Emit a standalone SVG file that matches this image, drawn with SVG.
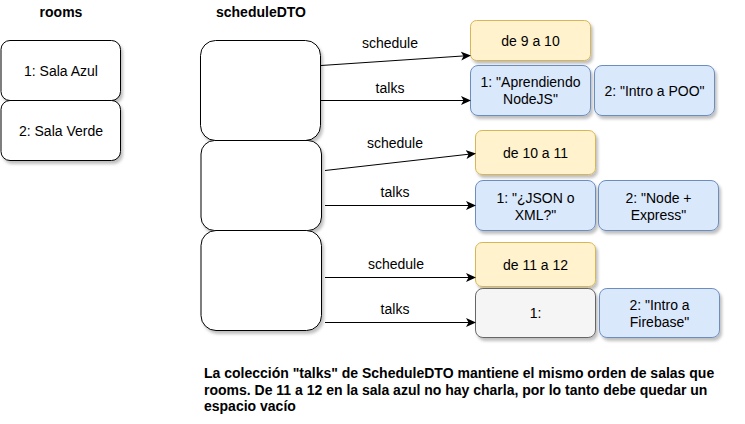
<svg xmlns="http://www.w3.org/2000/svg" width="745" height="424" viewBox="0 0 745 424">
<defs>
<filter id="sh" x="-10%" y="-10%" width="130%" height="130%">
<feDropShadow dx="2" dy="3" stdDeviation="1.5" flood-color="#000" flood-opacity="0.25"/>
</filter>
<marker id="arr" viewBox="0 0 10 10" refX="9" refY="5" markerWidth="10" markerHeight="10" markerUnits="userSpaceOnUse" orient="auto">
<path d="M0,0.5 L10,5 L0,9.5 L2.5,5 Z" fill="#000"/>
</marker>
</defs>
<style>
text{font-family:"Liberation Sans",Arial,sans-serif;font-size:14px;fill:#000}
.t{text-anchor:middle}
.b{font-weight:bold}
.w{fill:#fff;stroke:#000;stroke-width:1}
.y{fill:#fff2cc;stroke:#d6b656;stroke-width:1}
.bl{fill:#dae8fc;stroke:#6c8ebf;stroke-width:1}
.g{fill:#f5f5f5;stroke:#666;stroke-width:1}
.e{fill:none;stroke:#000;stroke-width:1;marker-end:url(#arr)}
</style>
<rect width="745" height="424" fill="#fff"/>
<g id="title-rooms"><text class="t b" x="61" y="17">rooms</text></g>
<g id="title-scheduleDTO"><text class="t b" x="261" y="17">scheduleDTO</text></g>
<g id="room1"><rect class="w" filter="url(#sh)" x="1" y="40.5" width="119.5" height="60" rx="9"/><text class="t" x="61" y="76">1: Sala Azul</text></g>
<g id="room2"><rect class="w" filter="url(#sh)" x="1" y="100.5" width="119.5" height="60" rx="9"/><text class="t" x="61" y="136">2: Sala Verde</text></g>
<g id="dto1"><rect class="w" filter="url(#sh)" x="200.5" y="40.5" width="120" height="100" rx="15"/></g>
<g id="dto2"><rect class="w" filter="url(#sh)" x="201" y="140.5" width="120.5" height="90" rx="13.5"/></g>
<g id="dto3"><rect class="w" filter="url(#sh)" x="201" y="230.5" width="120.5" height="100" rx="15"/></g>
<g id="sched1"><rect class="y" filter="url(#sh)" x="470.5" y="20.5" width="120" height="40" rx="6"/><text class="t" x="530.5" y="45.5">de 9 a 10</text></g>
<g id="talk1-1"><rect class="bl" filter="url(#sh)" x="470.5" y="65.5" width="120" height="50" rx="7.5"/><text class="t" x="530.5" y="87">1: "Aprendiendo</text><text class="t" x="530.5" y="104">NodeJS"</text></g>
<g id="talk1-2"><rect class="bl" filter="url(#sh)" x="594.5" y="65.5" width="120" height="50" rx="7.5"/><text class="t" x="654.5" y="95.5">2: "Intro a POO"</text></g>
<g id="sched2"><rect class="y" filter="url(#sh)" x="475.5" y="130.5" width="120" height="44" rx="6.6"/><text class="t" x="535.5" y="158">de 10 a 11</text></g>
<g id="talk2-1"><rect class="bl" filter="url(#sh)" x="475.5" y="180.5" width="120" height="50" rx="7.5"/><text class="t" x="535.5" y="203">1: "¿JSON o</text><text class="t" x="535.5" y="220">XML?"</text></g>
<g id="talk2-2"><rect class="bl" filter="url(#sh)" x="598.5" y="180.5" width="120" height="50" rx="7.5"/><text class="t" x="658.5" y="203">2: "Node +</text><text class="t" x="658.5" y="220">Express"</text></g>
<g id="sched3"><rect class="y" filter="url(#sh)" x="475.5" y="242.5" width="120" height="44" rx="6.6"/><text class="t" x="535.5" y="270">de 11 a 12</text></g>
<g id="talk3-1"><rect class="g" filter="url(#sh)" x="475.5" y="288.5" width="120" height="49" rx="7.4"/><text class="t" x="535.5" y="318">1:</text></g>
<g id="talk3-2"><rect class="bl" filter="url(#sh)" x="599.5" y="288.5" width="120" height="49" rx="7.4"/><text class="t" x="659.5" y="310">2: "Intro a</text><text class="t" x="659.5" y="327">Firebase"</text></g>
<g id="connectors">
<path class="e" d="M321,65.5 L470,55.5"/>
<path class="e" d="M321,100.5 L470,100.5"/>
<path class="e" d="M325,170.5 L475,153.5"/>
<path class="e" d="M325,205.5 L475,205.5"/>
<path class="e" d="M325,277.5 L475,277.5"/>
<path class="e" d="M325,322.5 L475,322.5"/>
<text class="t" x="390" y="48">schedule</text>
<text class="t" x="390" y="93">talks</text>
<text class="t" x="395" y="148">schedule</text>
<text class="t" x="395" y="197">talks</text>
<text class="t" x="396" y="269">schedule</text>
<text class="t" x="395" y="314">talks</text>
</g>
<g id="note">
<text class="b" x="204" y="378">La colección "talks" de ScheduleDTO mantiene el mismo orden de salas que</text>
<text class="b" x="204" y="394.5">rooms. De 11 a 12 en la sala azul no hay charla, por lo tanto debe quedar un</text>
<text class="b" x="204" y="411">espacio vacío</text>
</g>
</svg>
